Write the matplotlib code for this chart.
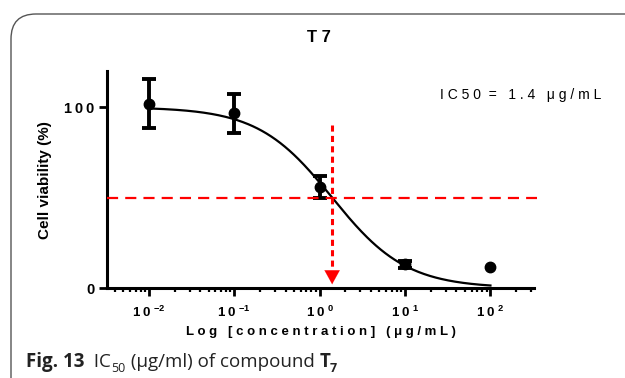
import matplotlib
matplotlib.use("Agg")
import matplotlib.pyplot as plt
import numpy as np
from matplotlib.patches import FancyBboxPatch
from matplotlib.ticker import LogLocator, NullFormatter, FixedLocator

# ---- data ----
conc = [0.01, 0.1, 1.0, 10.0, 100.0]
viability = [102.0, 96.5, 56.0, 13.0, 11.5]
sd = [13.5, 11.0, 6.0, 2.0, 0.0]
tick_vals = [0.01, 0.1, 1, 10, 100]
tick_labels = ["1\u20090 $^{-2}$", "1\u20090 $^{-1}$", "1\u20090 $^{0}$", "1\u20090 $^{1}$", "1\u20090 $^{2}$"]
ytick_vals = [0, 100]
ytick_labels = ["0", "1\u20090\u20090"]
# fitted 4-parameter logistic
top, bottom, ic50, hill = 100.0, 0.0, 1.4, 1.0
title = "T 7"
ann = "I C 5 0  =   1 . 4   μ g / m L"

plt.rcParams['font.family'] = ['Liberation Sans', 'DejaVu Sans']
plt.rcParams['mathtext.fontset'] = 'custom'
plt.rcParams['mathtext.rm'] = 'Liberation Sans:bold'
plt.rcParams['mathtext.bf'] = 'Liberation Sans:bold'

fig = plt.figure(figsize=(6.25, 3.78), dpi=100)
W, H = 625, 378
def fx(px): return px / W
def fy(py): return 1 - py / H

ax = fig.add_axes([fx(107), fy(288), fx(534) - fx(107), fy(71) - fy(288)])
ax.set_xscale('log')
ax.set_xlim(10**-2.49, 10**2.51)
ax.set_ylim(0, 120)

# curve
xc = np.logspace(np.log10(conc[0]), np.log10(conc[-1]), 300)
yc = bottom + (top - bottom) / (1 + (xc / ic50) ** hill)
ax.plot(xc, yc, color='black', lw=1.6, zorder=3)

# points with error bars
for x, y, e in zip(conc, viability, sd):
    if e > 0:
        ax.errorbar([x], [y], yerr=[e], fmt='o', color='black', ms=7.5,
                    elinewidth=2.8, capsize=4.8, capthick=2.8, zorder=4, clip_on=False)
    else:
        ax.plot([x], [y], 'o', color='black', ms=7.5, zorder=4)

# red dashed guides
ax.plot([10**-2.49, 10**2.55], [50, 50], color='red', lw=1.6, ls=(0, (5, 3.2)), zorder=5, clip_on=False)
ax.plot([ic50, ic50], [90, 9], color='red', lw=2.2, ls=(0, (2, 1.4)), zorder=5)
ax.annotate('', xy=(ic50, 0.5), xytext=(ic50, 10),
            arrowprops=dict(arrowstyle='-|>,head_length=1.0,head_width=0.55', color='red', lw=0.1),
            zorder=6)

# axes styling
for s in ['top', 'right']:
    ax.spines[s].set_visible(False)
for s in ['left', 'bottom']:
    ax.spines[s].set_linewidth(2.2)
ax.xaxis.set_major_locator(FixedLocator(tick_vals))
ax.set_xticklabels(tick_labels, fontsize=9.5, fontweight='bold')
ax.xaxis.set_minor_locator(LogLocator(base=10, subs=np.arange(2, 10), numticks=20))
ax.xaxis.set_minor_formatter(NullFormatter())
ax.tick_params(axis='x', which='major', length=6, width=2.0, pad=6, direction='out')
ax.tick_params(axis='x', which='minor', length=3, width=1.6, direction='out')
ax.set_yticks(ytick_vals)
ax.set_yticklabels(ytick_labels, fontsize=10.5, fontweight='bold')
ax.tick_params(axis='y', length=6, width=2.0, pad=3)

fig.text(fx(45), fy(180), "Cell viability (%)", rotation=90, ha='center', va='center',
         fontsize=11, fontweight='bold')

fig.text(fx(321), fy(332), "L o g   [ c o n c e n t r a t i o n ]   ( μ g / m L )",
         ha='center', va='center', fontsize=9.5, fontweight='bold')
fig.text(fx(319), fy(38), title, ha='center', va='center', fontsize=12, fontweight='bold')
fig.text(fx(440), fy(95), ann, ha='left', va='center', fontsize=10)

# border
box = FancyBboxPatch((fx(11), -0.2), 1.2, fy(14) + 0.2,
                     boxstyle="round,pad=0,rounding_size=0.04",
                     transform=fig.transFigure, fill=False, ec='#555555', lw=1.0,
                     clip_on=False, mutation_aspect=W / H)
fig.patches.append(box)

# caption
fig.canvas.draw()
r = fig.canvas.get_renderer()
cx = fx(26)
base = fy(367)
pieces = [("Fig. 13", 'bold', 13.5, 0.0), ("  IC", 'normal', 13.5, 0.0), ("50", 'normal', 9, -0.013),
          (" (μg/ml) of compound ", 'normal', 13.5, 0.0), ("T", 'bold', 13.5, 0.0), ("7", 'bold', 9, -0.013)]
for txt, wt, fsz, dy in pieces:
    t = fig.text(cx, base + dy, txt, ha='left', va='baseline', fontsize=fsz, fontweight=wt,
                 family=['Open Sans', 'DejaVu Sans'], color='#222222')
    bb = t.get_window_extent(renderer=r)
    cx += bb.width / (W)

fig.savefig("out.png", dpi=100)
